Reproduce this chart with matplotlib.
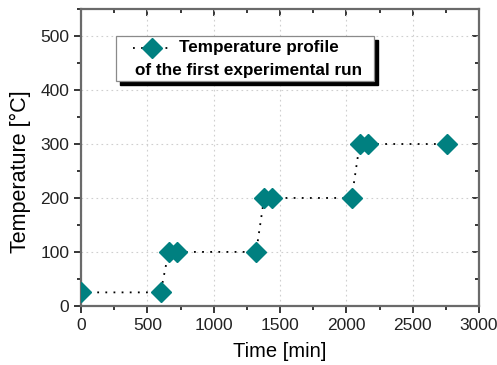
import matplotlib
matplotlib.use("Agg")
import matplotlib.pyplot as plt
from matplotlib.patches import Rectangle
from matplotlib.lines import Line2D
from matplotlib.ticker import MultipleLocator

time_min = [0, 600, 660, 720, 1320, 1380, 1440, 2040, 2100, 2160, 2760]
temp_c = [25, 25, 100, 100, 100, 200, 200, 200, 300, 300, 300]
legend_line1 = "Temperature profile"
legend_line2 = "of the first experimental run"

teal = "#008080"
plt.rcParams['font.family'] = ['Liberation Sans', 'DejaVu Sans']

fig = plt.figure(figsize=(4.97, 3.65), dpi=100)
ax = fig.add_axes([0.163, 0.162, 0.801, 0.813])

ax.plot(time_min, temp_c, linestyle=(0, (1, 3.5)), color="black", lw=1.3,
        marker="D", markersize=10, markerfacecolor=teal, markeredgecolor=teal,
        zorder=3)

ax.set_xlim(0, 3000)
ax.set_ylim(0, 550)
ax.xaxis.set_major_locator(MultipleLocator(500))
ax.xaxis.set_minor_locator(MultipleLocator(250))
ax.yaxis.set_major_locator(MultipleLocator(100))
ax.yaxis.set_minor_locator(MultipleLocator(50))
ax.set_yticks([0, 100, 200, 300, 400, 500])

ax.grid(True, which="major", linestyle=(0, (1.5, 3)), color="#cfcfcf", lw=0.8)
for s in ax.spines.values():
    s.set_color("#6a6a6a")
    s.set_linewidth(1.6)

ax.tick_params(which="both", direction="out", top=False, right=False,
               labelsize=12.5, labelcolor="#222222", color="black", width=1.1)
ax.tick_params(which="major", length=5)
ax.tick_params(which="minor", length=3)

# mirrored inward ticks on top and right
sec_x = ax.secondary_xaxis("top")
sec_x.xaxis.set_major_locator(MultipleLocator(500))
sec_x.xaxis.set_minor_locator(MultipleLocator(250))
sec_x.tick_params(which="both", direction="in", labeltop=False, color="black", width=1.1)
sec_x.tick_params(which="major", length=5)
sec_x.tick_params(which="minor", length=3)
sec_x.spines["top"].set_visible(False)
sec_y = ax.secondary_yaxis("right")
sec_y.yaxis.set_major_locator(MultipleLocator(100))
sec_y.yaxis.set_minor_locator(MultipleLocator(50))
sec_y.tick_params(which="both", direction="in", labelright=False, color="black", width=1.1)
sec_y.tick_params(which="major", length=5)
sec_y.tick_params(which="minor", length=3)
sec_y.spines["right"].set_visible(False)

ax.set_xlabel("Time [min]", fontsize=14.5, labelpad=7)
ax.set_ylabel("Temperature [°C]", fontsize=15.5)
ax.yaxis.set_label_coords(-0.125, 0.451)

# legend box with black shadow
bx0, by0, bw, bh = 0.088, 0.758, 0.648, 0.151
dx, dy = 4 / 398, -4 / 297
ax.add_patch(Rectangle((bx0 + dx, by0 + dy), bw, bh, transform=ax.transAxes,
                       facecolor="black", edgecolor="black", zorder=5))
ax.add_patch(Rectangle((bx0, by0), bw, bh, transform=ax.transAxes,
                       facecolor="white", edgecolor="#8a8a8a", lw=0.9, zorder=6))
ax.add_line(Line2D([0.131, 0.226], [0.869, 0.869], transform=ax.transAxes,
                   linestyle=(0, (1, 3.5)), color="black", lw=1.3, zorder=7))
ax.add_line(Line2D([0.178], [0.869], transform=ax.transAxes, marker="D",
                   markersize=10, markerfacecolor=teal, markeredgecolor=teal,
                   linestyle="none", zorder=8))
ax.text(0.245, 0.869, legend_line1, transform=ax.transAxes, fontsize=12.3,
        fontweight="bold", va="center", ha="left", zorder=8)
ax.text(0.135, 0.793, legend_line2, transform=ax.transAxes, fontsize=12.3,
        fontweight="bold", va="center", ha="left", zorder=8)

fig.savefig("out.png", dpi=100)
